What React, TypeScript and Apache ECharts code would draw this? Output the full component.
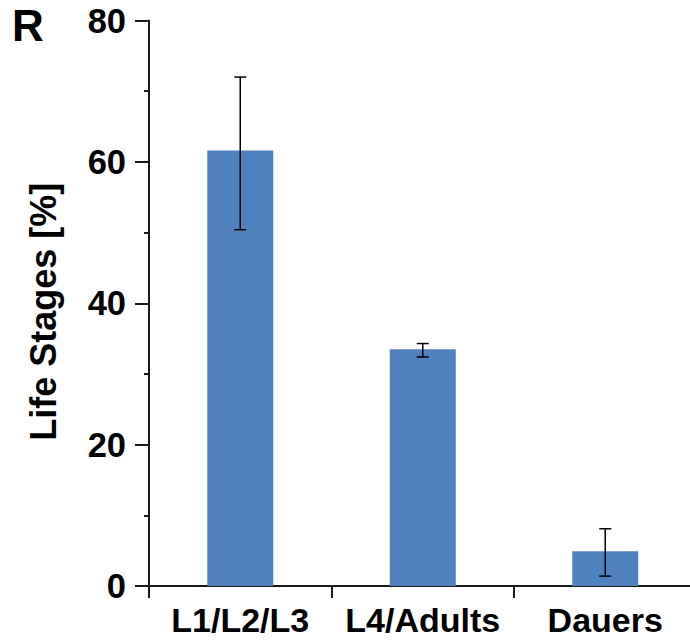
import React, { useEffect, useRef } from "react";
import * as echarts from "echarts";

// Share of worms at each life stage, with min/max error bars
const categories = ["L1/L2/L3", "L4/Adults", "Dauers"];
const means = [61.6, 33.5, 4.9];
const errLow = [50.4, 32.4, 1.4];
const errHigh = [72.0, 34.3, 8.1];
const yTicks = [0, 20, 40, 60, 80];

const FONT = "'Liberation Sans', Arial, Helvetica, sans-serif";
const INK = "#1a1a1a";

export default function App() {
  const ref = useRef<HTMLDivElement>(null);

  useEffect(() => {
    if (!ref.current) return;
    const chart = echarts.init(ref.current, undefined, { renderer: "svg" });

    const errorData = categories.map((_, i) => [i, errLow[i], errHigh[i]]);

    chart.setOption({
      animation: false,
      backgroundColor: "#ffffff",
      title: {
        text: "R",
        left: 12,
        top: 3,
        padding: 0,
        textStyle: { fontFamily: FONT, fontWeight: "bold", fontSize: 44, color: "#000" },
      },
      grid: { left: 149, right: 0.5, top: 20.5, bottom: 54, containLabel: false },
      xAxis: {
        type: "category",
        data: categories,
        boundaryGap: true,
        axisLine: { show: true, lineStyle: { color: INK, width: 2 } },
        axisTick: { show: true, length: 12, inside: false, lineStyle: { color: INK, width: 2 } },
        axisLabel: {
          margin: 19,
          fontFamily: FONT,
          fontWeight: "bold",
          fontSize: 34,
          lineHeight: 30,
          color: "#000",
          interval: 0,
        },
        splitLine: { show: false },
      },
      yAxis: {
        type: "value",
        min: yTicks[0],
        max: yTicks[yTicks.length - 1],
        interval: 20,
        name: "Life Stages [%]",
        nameLocation: "middle",
        nameRotate: 90,
        nameGap: 88,
        nameTextStyle: {
          fontFamily: FONT,
          fontWeight: "bold",
          fontSize: 36,
          color: "#000",
          padding: [0, 17, 0, 0],
        },
        axisLine: { show: true, lineStyle: { color: INK, width: 2 } },
        axisTick: { show: true, length: 14, inside: false, lineStyle: { color: INK, width: 2 } },
        minorTick: { show: true, splitNumber: 2, length: 5, lineStyle: { color: INK, width: 2 } },
        axisLabel: {
          margin: 23,
          fontFamily: FONT,
          fontWeight: "bold",
          fontSize: 34.5,
          color: "#000",
        },
        splitLine: { show: false },
        minorSplitLine: { show: false },
      },
      series: [
        {
          type: "bar",
          data: means,
          barWidth: 66,
          itemStyle: { color: "#4F81BD" },
          z: 2,
        },
        {
          type: "custom",
          data: errorData,
          z: 3,
          renderItem: (params: any, api: any) => {
            const x = api.value(0);
            const lo = api.coord([x, api.value(1)]);
            const hi = api.coord([x, api.value(2)]);
            const cap = 6;
            const style = { stroke: "#000", lineWidth: 1.5 };
            return {
              type: "group",
              children: [
                { type: "line", shape: { x1: hi[0], y1: hi[1], x2: lo[0], y2: lo[1] }, style },
                { type: "line", shape: { x1: hi[0] - cap, y1: hi[1], x2: hi[0] + cap, y2: hi[1] }, style },
                { type: "line", shape: { x1: lo[0] - cap, y1: lo[1], x2: lo[0] + cap, y2: lo[1] }, style },
              ],
            };
          },
        },
      ],
    });

    return () => chart.dispose();
  }, []);

  return (
    <div
      style={{
        position: "absolute",
        left: 0,
        top: 0,
        width: 690,
        height: 640,
        overflow: "hidden",
        background: "#fff",
      }}
    >
      <div ref={ref} style={{ width: 697, height: 640 }} />
    </div>
  );
}
